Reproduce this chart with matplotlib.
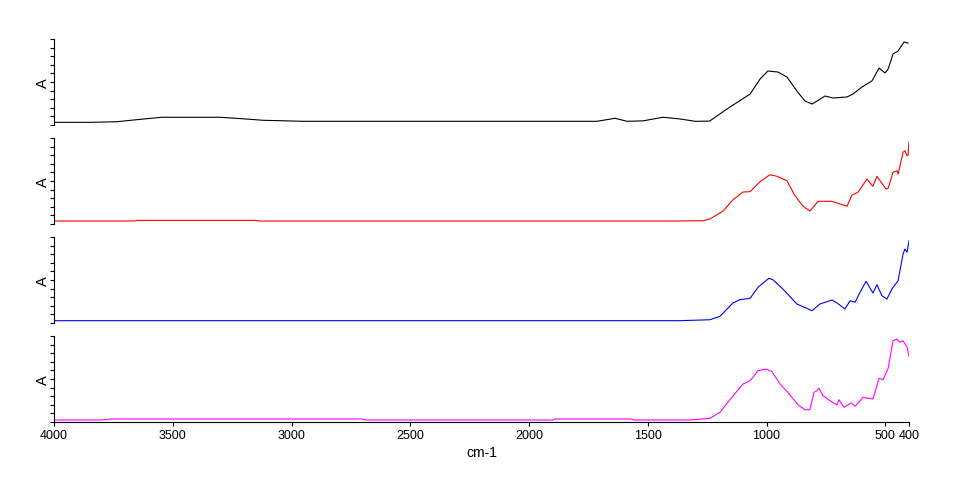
import matplotlib
matplotlib.use("Agg")
import matplotlib.pyplot as plt
import numpy as np

plt.rcParams['font.family'] = ['Liberation Sans', 'DejaVu Sans']

# spectra (wavenumber in cm-1, relative absorbance 0..1 of each panel)
black_wn = [4000, 3848, 3735, 3651, 3545, 3301, 3208, 3120, 2952, 2627, 1714, 1638, 1587, 1520,
            1436, 1364, 1300, 1240, 1154, 1069, 1027, 994, 952, 914, 872, 838, 808, 787, 754,
            720, 661, 636, 598, 556, 526, 501, 488, 467, 446, 421, 404]
black_a = [0.031, 0.031, 0.038, 0.062, 0.09, 0.09, 0.073, 0.055, 0.043, 0.043, 0.043, 0.078,
           0.043, 0.048, 0.09, 0.07, 0.043, 0.045, 0.209, 0.36, 0.535, 0.628, 0.616, 0.558,
           0.395, 0.279, 0.244, 0.279, 0.337, 0.314, 0.326, 0.36, 0.442, 0.512, 0.663, 0.605,
           0.651, 0.826, 0.86, 0.965, 0.953]

red_wn = [4000, 3660, 3650, 3150, 3140, 1370, 1267, 1238, 1183, 1141, 1099, 1069, 1027, 986,
          956, 914, 880, 846, 817, 783, 724, 661, 640, 615, 577, 552, 535, 497, 488, 467, 451,
          446, 425, 417, 408, 404, 400]
red_a = [0.035, 0.035, 0.042, 0.042, 0.035, 0.035, 0.038, 0.058, 0.151, 0.283, 0.372, 0.376,
         0.492, 0.573, 0.555, 0.503, 0.329, 0.206, 0.151, 0.264, 0.264, 0.206, 0.337, 0.369,
         0.523, 0.438, 0.555, 0.407, 0.415, 0.601, 0.62, 0.581, 0.834, 0.852, 0.794, 0.802,
         0.957]

blue_wn = [4000, 1364, 1238, 1196, 1141, 1112, 1069, 1036, 990, 973, 931, 872, 808, 775, 724,
           703, 670, 648, 627, 606, 581, 552, 535, 514, 493, 472, 446, 425, 417, 408, 400]
blue_a = [0.027, 0.027, 0.038, 0.078, 0.233, 0.271, 0.287, 0.415, 0.52, 0.503, 0.395, 0.221,
          0.143, 0.221, 0.267, 0.233, 0.163, 0.259, 0.241, 0.357, 0.485, 0.349, 0.445, 0.317,
          0.279, 0.395, 0.492, 0.802, 0.86, 0.822, 0.957]

magenta_wn = [4000, 3800, 3760, 2700, 2690, 1900, 1890, 1570, 1560, 1320, 1238, 1196, 1154,
              1099, 1069, 1036, 1002, 977, 943, 910, 867, 838, 817, 800, 787, 779, 762, 733,
              703, 695, 674, 644, 627, 594, 552, 526, 509, 488, 467, 451, 438, 425, 408, 400]
magenta_a = [0.023, 0.023, 0.035, 0.035, 0.023, 0.023, 0.035, 0.035, 0.023, 0.023, 0.043,
             0.113, 0.259, 0.442, 0.48, 0.597, 0.616, 0.585, 0.442, 0.345, 0.198, 0.143,
             0.143, 0.345, 0.364, 0.392, 0.306, 0.248, 0.198, 0.259, 0.171, 0.221, 0.183,
             0.287, 0.267, 0.508, 0.492, 0.624, 0.945, 0.965, 0.927, 0.945, 0.869, 0.764]

spectra = [(black_wn, black_a, 'black'),
           (red_wn, red_a, '#ff0000'),
           (blue_wn, blue_a, '#0000ff'),
           (magenta_wn, magenta_a, '#ff00ff')]

x_ticks = [4000, 3500, 3000, 2500, 2000, 1500, 1000, 500, 400]

fig = plt.figure(figsize=(9.55, 4.85), dpi=100)
left, width, height = 54 / 955, 855 / 955, 86 / 485
bottoms_px = [126, 225, 324, 423]

for i, (wn, a, color) in enumerate(spectra):
    ax = fig.add_axes([left, 1 - bottoms_px[i] / 485, width, height])
    ax.plot(wn, a, color=color, lw=0.8)
    ax.set_xlim(4000, 400)
    ax.set_ylim(0, 1)
    ax.set_yticks(np.linspace(0, 1, 11))
    ax.set_yticklabels([])
    ax.tick_params(axis='y', direction='out', length=3, width=0.8)
    ax.set_ylabel('A', fontsize=10.5)
    ax.yaxis.set_label_coords(-0.005, 0.5)
    for side in ['top', 'right']:
        ax.spines[side].set_visible(False)
    ax.spines['left'].set_linewidth(0.8)
    if i < 3:
        ax.spines['bottom'].set_visible(False)
        ax.set_xticks([])
    else:
        ax.spines['bottom'].set_linewidth(0.8)
        ax.set_xticks(x_ticks)
        ax.set_xticklabels([str(t) for t in x_ticks], fontsize=9)
        ax.tick_params(axis='x', direction='out', length=3, width=0.8, pad=2)
        ax.set_xlabel('cm-1', fontsize=10, labelpad=3)

plt.savefig('out.png', dpi=100)
